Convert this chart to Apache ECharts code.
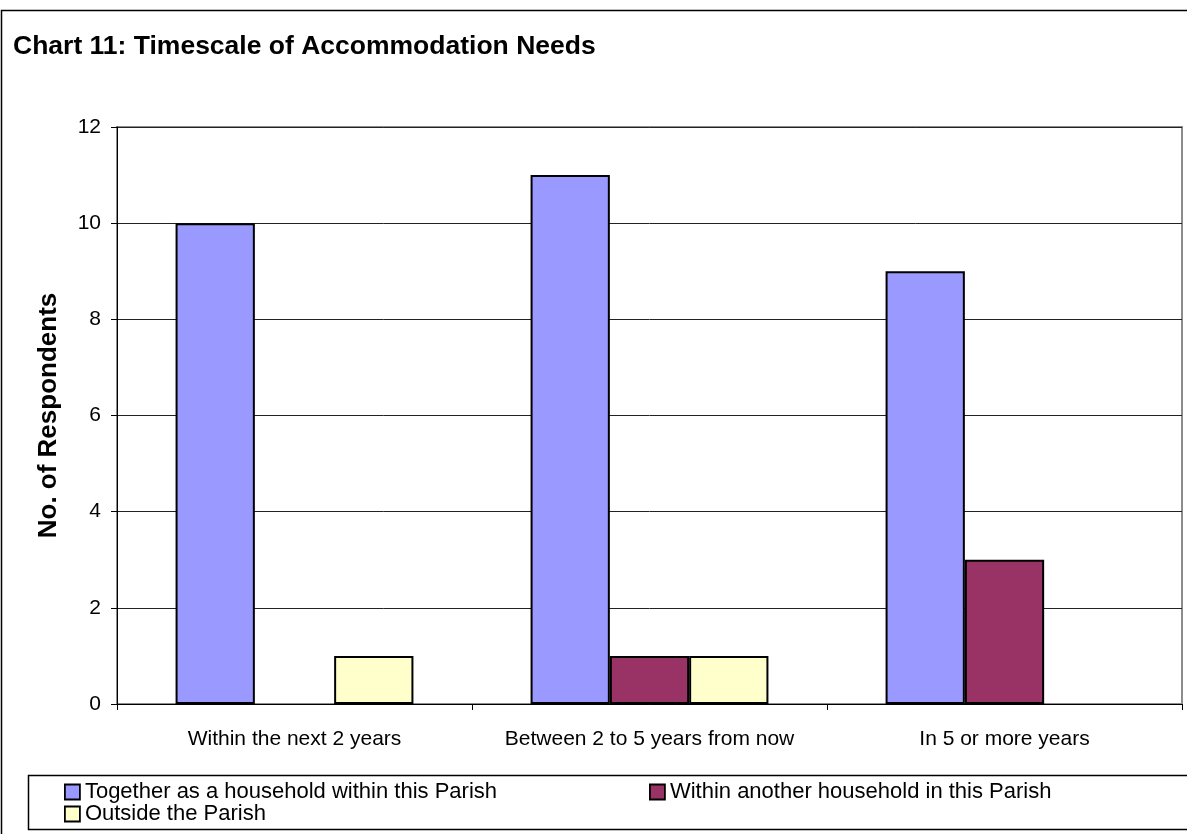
<!DOCTYPE html>
<html>
<head>
<meta charset="utf-8">
<style>
  html, body { margin: 0; padding: 0; background: #fff; }
  #chart { width: 1187px; height: 834px; }
</style>
<script src="https://cdn.jsdelivr.net/npm/echarts@6/dist/echarts.min.js"></script>
</head>
<body>
<div id="chart"></div>
<script>
// Timescale categories and respondent counts per accommodation option
const categories = ['Within the next 2 years', 'Between 2 to 5 years from now', 'In 5 or more years'];
const seriesNames = ['Together as a household within this Parish', 'Within another household in this Parish', 'Outside the Parish'];
const together = [10, 11, 9];
const anotherHousehold = [0, 1, 3];
const outside = [1, 1, 0];
const yTicks = [0, 2, 4, 6, 8, 10, 12];

const colors = ['#9999ff', '#993366', '#ffffcc'];
const font = '"Liberation Sans", Arial, sans-serif';

const chart = echarts.init(document.getElementById('chart'), null, { renderer: 'canvas' });

function barSeries(name, data, color) {
  return {
    name: name,
    type: 'bar',
    data: data.map(v => (v === 0 ? null : v)),
    barGap: '0%',
    barCategoryGap: '33%',
    itemStyle: { color: color, borderColor: '#000', borderWidth: 2 },
    emphasis: { disabled: true },
    animation: false
  };
}

function legendBlock(names, left) {
  return {
    data: names,
    orient: 'vertical',
    left: left, top: 781,
    height: 50,
    padding: 0,
    itemWidth: 15, itemHeight: 15, itemGap: 0,
    icon: 'rect',
    itemStyle: { borderColor: '#000', borderWidth: 1.8 },
    textStyle: { fontFamily: font, fontSize: 22, lineHeight: 21, color: '#000', padding: [0, 0, 0, 0] },
    selectedMode: false
  };
}

chart.setOption({
  animation: false,
  textStyle: { fontFamily: font },
  title: {
    text: 'Chart 11: Timescale of Accommodation Needs',
    left: 13,
    top: 33,
    padding: 0,
    textStyle: { fontFamily: font, fontSize: 26.5, fontWeight: 'bold', color: '#000' }
  },
  grid: {
    left: 117, right: 5, top: 127, bottom: 130,
    show: true, borderColor: '#8c8c8c', borderWidth: 2, backgroundColor: 'transparent'
  },
  legend: [
    legendBlock([seriesNames[0], seriesNames[2]], 64),
    legendBlock([seriesNames[1]], 649)
  ],
  xAxis: {
    type: 'category',
    data: categories,
    axisLine: { show: true, lineStyle: { color: '#000', width: 1 } },
    axisTick: { show: true, interval: 0, length: 6, alignWithLabel: false, lineStyle: { color: '#000' } },
    axisLabel: { interval: 0, fontFamily: font, fontSize: 21, color: '#000', margin: 25 },
    splitLine: { show: false }
  },
  yAxis: {
    type: 'value',
    min: yTicks[0],
    max: yTicks[yTicks.length - 1],
    interval: 2,
    name: 'No. of Respondents',
    nameLocation: 'middle',
    nameGap: 55,
    nameTextStyle: { fontFamily: font, fontSize: 26, fontWeight: 'bold', color: '#000' },
    axisLine: { show: true, lineStyle: { color: '#000', width: 1 } },
    axisTick: { show: true, length: 6, lineStyle: { color: '#000' } },
    axisLabel: { fontFamily: font, fontSize: 21, color: '#000', margin: 16 },
    splitLine: { show: true, lineStyle: { color: '#222', width: 1 } }
  },
  series: [
    barSeries(seriesNames[0], together, colors[0]),
    barSeries(seriesNames[1], anotherHousehold, colors[1]),
    barSeries(seriesNames[2], outside, colors[2])
  ],
  graphic: [
    // outer chart frame
    { type: 'polyline', shape: { points: [[1.5, 834], [1.5, 10.5], [1187, 10.5]] }, style: { stroke: '#000', lineWidth: 1.5, fill: null }, silent: true },
    // legend frame
    { type: 'rect', shape: { x: 28.5, y: 775.5, width: 1170, height: 54 }, style: { stroke: '#000', lineWidth: 1.5, fill: null }, silent: true, z: -1 }
  ]
});
</script>
</body>
</html>
